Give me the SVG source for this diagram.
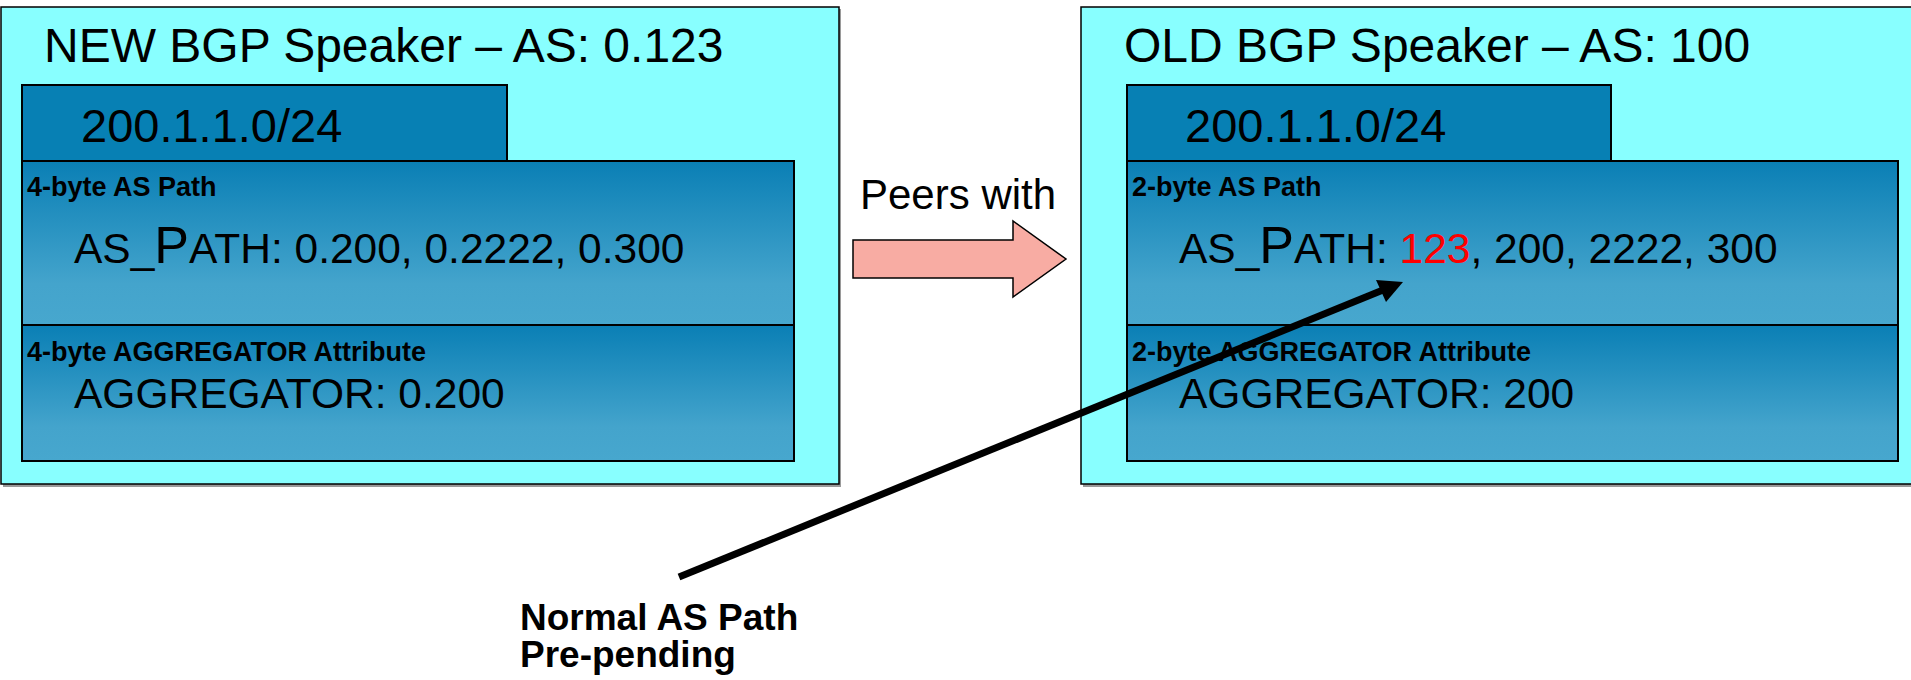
<svg xmlns="http://www.w3.org/2000/svg" width="1911" height="680" viewBox="0 0 1911 680">
  <defs>
    <linearGradient id="attrFill" x1="0" y1="0" x2="0" y2="1">
      <stop offset="0" stop-color="#0a7fb5"/>
      <stop offset="0.75" stop-color="#44a4cc"/>
      <stop offset="1" stop-color="#47a7ce"/>
    </linearGradient>
    <style>
      .speaker { fill: #88ffff; stroke: #000; stroke-width: 1.5; }
      .shadow { fill: #9a9a9a; }
      .prefix { fill: #0780b4; stroke: #000; stroke-width: 2; }
      .attr { fill: url(#attrFill); stroke: #000; stroke-width: 2; }
      .title { font-family: "Liberation Sans", Arial, sans-serif; font-size: 48px; fill: #000; }
      .big { font-family: "Liberation Sans", Arial, sans-serif; font-size: 47px; fill: #000; }
      .val { font-family: "Liberation Sans", Arial, sans-serif; font-size: 42.5px; fill: #000; }
      .tag { font-family: "Liberation Sans", Arial, sans-serif; font-size: 27px; font-weight: bold; fill: #000; }
      .note { font-family: "Liberation Sans", Arial, sans-serif; font-size: 37px; font-weight: bold; fill: #000; }
      .peer { font-family: "Liberation Sans", Arial, sans-serif; font-size: 42px; fill: #000; }
      .capP { font-size: 52px; }
      .hl { fill: #ff0000; }
    </style>
  </defs>

  <rect width="1911" height="680" fill="#fff"/>

  <!-- New (4-byte) BGP speaker -->
  <g id="new-speaker">
    <rect class="shadow" x="3" y="9" width="838" height="478"/>
    <rect class="speaker" x="1" y="7" width="838" height="477"/>
    <text class="title" x="44" y="62">NEW BGP Speaker – AS: 0.123</text>
    <rect class="prefix" x="22" y="85" width="485" height="76"/>
    <text class="big" x="81" y="142">200.1.1.0/24</text>
    <rect class="attr" x="22" y="161" width="772" height="164"/>
    <text class="tag" x="27" y="196">4-byte AS Path</text>
    <text class="val" x="74" y="263">AS_<tspan class="capP">P</tspan>ATH: 0.200, 0.2222, 0.300</text>
    <rect class="attr" x="22" y="325" width="772" height="136"/>
    <text class="tag" x="27" y="361">4-byte AGGREGATOR Attribute</text>
    <text class="val" x="74" y="408">AGGREGATOR: 0.200</text>
  </g>

  <!-- Old (2-byte) BGP speaker -->
  <g id="old-speaker">
    <rect class="shadow" x="1083" y="9" width="840" height="478"/>
    <rect class="speaker" x="1081" y="7" width="840" height="477"/>
    <text class="title" x="1124" y="62">OLD BGP Speaker – AS: 100</text>
    <rect class="prefix" x="1127" y="85" width="484" height="76"/>
    <text class="big" x="1185" y="142">200.1.1.0/24</text>
    <rect class="attr" x="1127" y="161" width="771" height="164"/>
    <text class="tag" x="1132" y="196">2-byte AS Path</text>
    <text class="val" x="1179" y="263">AS_<tspan class="capP">P</tspan>ATH: <tspan class="hl">123</tspan>, 200, 2222, 300</text>
    <rect class="attr" x="1127" y="325" width="771" height="136"/>
    <text class="tag" x="1132" y="361">2-byte AGGREGATOR Attribute</text>
    <text class="val" x="1179" y="408">AGGREGATOR: 200</text>
  </g>

  <!-- Peering block arrow -->
  <g id="peers-with">
    <text class="peer" x="860" y="209">Peers with</text>
    <polygon points="853,240 1013,240 1013,221 1066,259 1013,297 1013,278 853,278" fill="#f8aca3" stroke="#000" stroke-width="1.5"/>
  </g>

  <!-- Annotation label -->
  <g id="prepend-note">
    <text class="note" x="520" y="630">Normal AS Path</text>
    <text class="note" x="520" y="667">Pre-pending</text>
  </g>

  <!-- Connectors -->
  <g id="connectors">
    <line x1="679" y1="577" x2="1383" y2="290" stroke="#000" stroke-width="7"/>
    <polygon points="1403,282 1376,280 1386,302" fill="#000"/>
  </g>
</svg>
